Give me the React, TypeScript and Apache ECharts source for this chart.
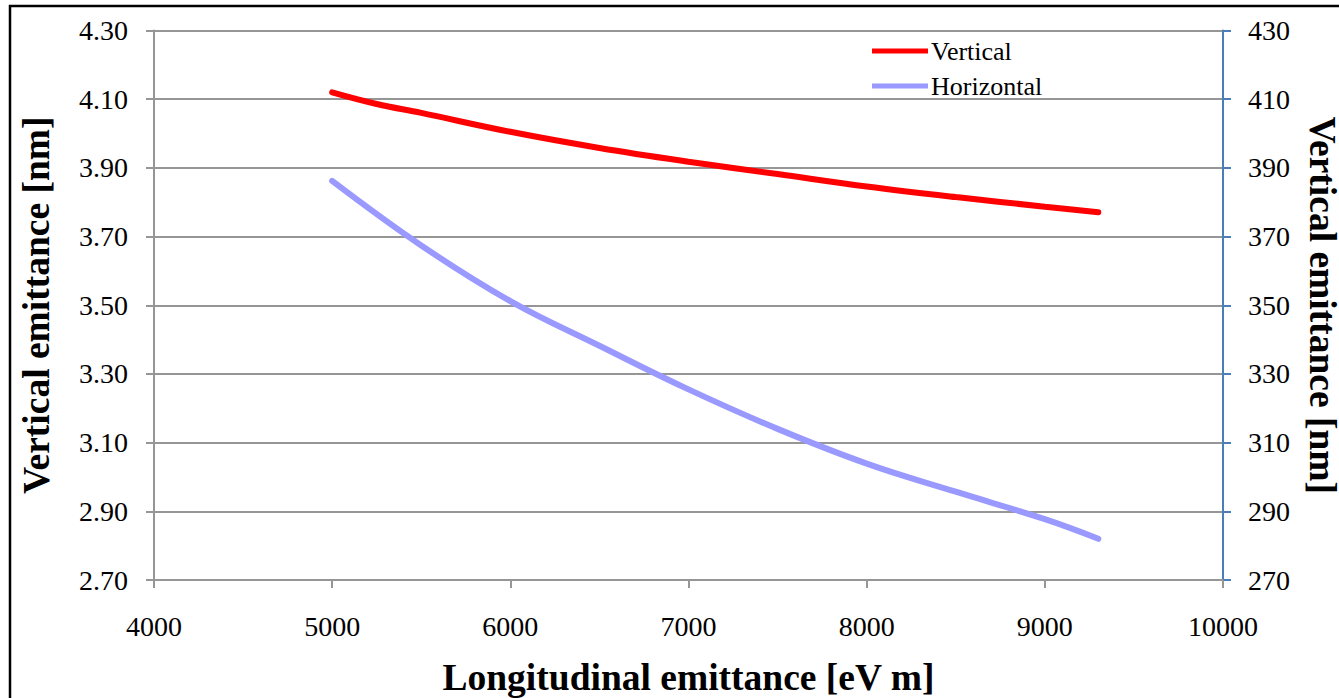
import React, { useEffect, useRef } from "react";
import * as echarts from "echarts";

const xTicks = { min: 4000, max: 10000, interval: 1000 };
const leftTicks = { min: 2.7, max: 4.3, interval: 0.2 };
const rightTicks = { min: 270, max: 430, interval: 20 };

const verticalX = [5000, 5250, 5500, 6000, 6500, 7000, 7500, 8000, 8500, 9000, 9300];
const verticalY = [4.12, 4.086, 4.06, 4.005, 3.958, 3.918, 3.882, 3.846, 3.815, 3.787, 3.771];

const horizontalX = [5000, 5500, 6000, 6500, 7000, 7500, 8000, 8500, 9000, 9300];
const horizontalY = [386.2, 367.4, 351.2, 338.2, 325.5, 314.0, 303.9, 295.7, 287.7, 282.0];

const FONT = "'Liberation Serif', 'Times New Roman', serif";

export default function App() {
  const ref = useRef<HTMLDivElement>(null);
  useEffect(() => {
    if (!ref.current) return;
    const chart = echarts.init(ref.current, undefined, { renderer: "svg" });
    const gridColor = "#969696";
    chart.setOption({
      animation: false,
      backgroundColor: "#ffffff",
      textStyle: { fontFamily: FONT },
      grid: { left: 154, right: 116, top: 30.5, bottom: 118, outerBoundsMode: "none", containLabel: false },
      graphic: [
        {
          type: "rect",
          shape: { x: 10, y: 6, width: 1400, height: 800 },
          style: { fill: "none", stroke: "#000", lineWidth: 2.5 },
          silent: true,
        },
      ],
      legend: {
        orient: "vertical",
        left: 872,
        top: 38,
        padding: 0,
        icon: "rect",
        itemWidth: 56,
        itemHeight: 5,
        itemGap: 9,
        textStyle: { fontFamily: FONT, fontSize: 26, color: "#000", padding: [0, 0, 0, -2] },
        data: ["Vertical", "Horizontal"],
      },
      xAxis: {
        type: "value",
        min: xTicks.min,
        max: xTicks.max,
        interval: xTicks.interval,
        name: "Longitudinal emittance [eV m]",
        nameLocation: "middle",
        nameGap: 78,
        nameTextStyle: { fontFamily: FONT, fontSize: 37.5, fontWeight: "bold", color: "#000" },
        axisLine: { show: true, lineStyle: { color: gridColor, width: 2 } },
        axisTick: { show: true, inside: false, length: 8, lineStyle: { color: gridColor, width: 2 } },
        axisLabel: {
          fontFamily: FONT,
          fontSize: 28,
          color: "#000",
          margin: 32,
          formatter: (v: number) => String(Math.round(v)),
        },
        splitLine: { show: false },
      },
      yAxis: [
        {
          type: "value",
          position: "left",
          min: leftTicks.min,
          max: leftTicks.max,
          interval: leftTicks.interval,
          name: "Vertical emittance [nm]",
          nameLocation: "middle",
          nameRotate: 90,
          nameGap: 99,
          nameTextStyle: { fontFamily: FONT, fontSize: 37.5, fontWeight: "bold", color: "#000" },
          axisLine: { show: true, lineStyle: { color: gridColor, width: 2 } },
          axisTick: { show: true, inside: false, length: 8, lineStyle: { color: gridColor, width: 2 } },
          axisLabel: {
            fontFamily: FONT,
            fontSize: 28,
            color: "#000",
            margin: 26,
            formatter: (v: number) => v.toFixed(2),
          },
          splitLine: { show: true, lineStyle: { color: gridColor, width: 2 } },
        },
        {
          type: "value",
          position: "right",
          min: rightTicks.min,
          max: rightTicks.max,
          interval: rightTicks.interval,
          name: "Vertical emittance [nm]",
          nameLocation: "middle",
          nameRotate: -90,
          nameGap: 80,
          nameTextStyle: { fontFamily: FONT, fontSize: 37.5, fontWeight: "bold", color: "#000" },
          axisLine: { show: true, lineStyle: { color: "#4a7ebb", width: 2 } },
          axisTick: { show: true, inside: false, length: 8, lineStyle: { color: "#4a7ebb", width: 2 } },
          axisLabel: {
            fontFamily: FONT,
            fontSize: 28,
            color: "#000",
            margin: 25,
            formatter: (v: number) => String(Math.round(v)),
          },
          splitLine: { show: false },
        },
      ],
      series: [
        {
          name: "Vertical",
          type: "line",
          yAxisIndex: 0,
          smooth: 0.4,
          symbol: "none",
          lineStyle: { color: "#ff0000", width: 6, cap: "round" },
          itemStyle: { color: "#ff0000" },
          data: verticalX.map((x, i) => [x, verticalY[i]]),
        },
        {
          name: "Horizontal",
          type: "line",
          yAxisIndex: 1,
          smooth: 0.4,
          symbol: "none",
          lineStyle: { color: "#9999ff", width: 6, cap: "round" },
          itemStyle: { color: "#9999ff" },
          data: horizontalX.map((x, i) => [x, horizontalY[i]]),
        },
      ],
    });
    return () => chart.dispose();
  }, []);
  return (
    <div
      ref={ref}
      style={{ position: "fixed", left: 0, top: 0, width: 1339, height: 698, background: "#fff" }}
    />
  );
}
